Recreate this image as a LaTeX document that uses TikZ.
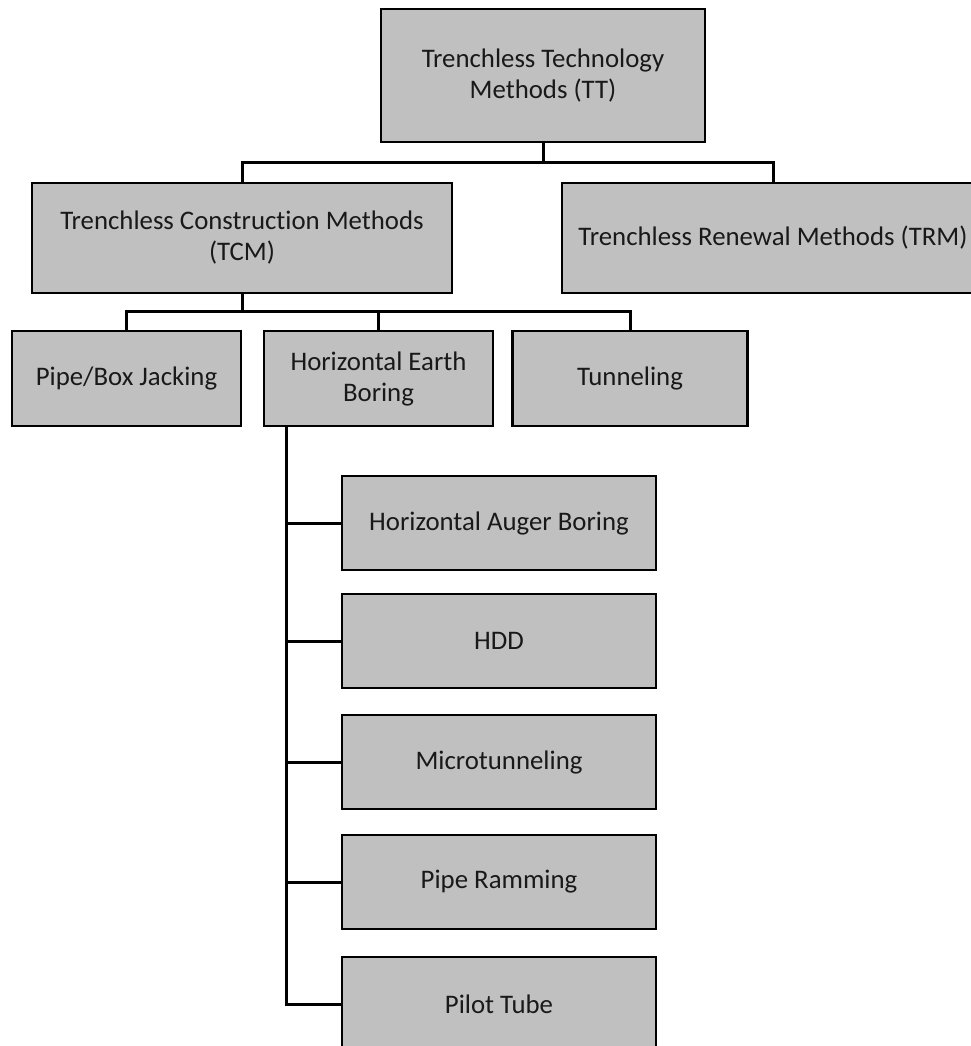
\documentclass[tikz,border=0pt]{standalone}
\usepackage{fontspec}
\setmainfont[RawFeature={-liga;-clig;-dlig}]{Carlito}
\definecolor{boxgray}{RGB}{192,192,192}
\definecolor{txtgray}{RGB}{25,25,25}
\begin{document}
\begin{tikzpicture}[x=1pt,y=-1pt,
  box/.style={draw=black,line width=2.4pt,fill=boxgray,rectangle,inner sep=0pt,
    text=txtgray,align=center,font=\fontsize{26.8}{31}\selectfont},
  conn/.style={draw=black,line width=3pt,line join=miter,line cap=rect}]
\clip (0,0) rectangle (971,1046);
\fill[white] (0,0) rectangle (971,1046);
% top level
\node[box,minimum width=324pt,minimum height=133pt] (TT) at (543,75.5) {Trenchless Technology\\Methods (TT)};
\node[box,minimum width=420pt,minimum height=110pt] (TCM) at (242,238) {Trenchless Construction Methods\\(TCM)};
\node[box,minimum width=422pt,minimum height=110pt] (TRM) at (773,238) {Trenchless Renewal Methods (TRM)};
% third level
\node[box,minimum width=229pt,minimum height=95pt] (PBJ) at (126.5,378.5) {Pipe/Box Jacking};
\node[box,minimum width=229pt,minimum height=95pt] (HEB) at (378.5,378.5) {Horizontal Earth\\Boring};
\node[box,minimum width=235pt,minimum height=95pt] (TUN) at (630,378.5) {Tunneling};
% fourth level
\node[box,minimum width=314pt,minimum height=94pt] (HAB) at (499,523) {Horizontal Auger Boring};
\node[box,minimum width=314pt,minimum height=94pt] (HDD) at (499,641) {HDD};
\node[box,minimum width=314pt,minimum height=94pt] (MT) at (499,762) {Microtunneling};
\node[box,minimum width=314pt,minimum height=94pt] (PR) at (499,882) {Pipe Ramming};
\node[box,minimum width=314pt,minimum height=94pt] (PT) at (499,1004) {Pilot Tube};
% connectors
\coordinate (j1) at (543,162);
\coordinate (j2) at (242,311);
\draw[conn] (TT.south) -- (j1);
\draw[conn] (TCM.north) -- (TCM.north |- j1) -- (TRM.north |- j1) -- (TRM.north);
\draw[conn] (TCM.south) -- (j2);
\draw[conn] (PBJ.north) -- (PBJ.north |- j2) -- (TUN.north |- j2) -- (TUN.north);
\draw[conn] (HEB.north) -- (HEB.north |- j2);
\coordinate (t0) at ([xshift=24pt]HEB.south west);
\draw[conn] (t0) |- (PT.west);
\draw[conn] (t0 |- HAB.west) -- (HAB.west);
\draw[conn] (t0 |- HDD.west) -- (HDD.west);
\draw[conn] (t0 |- MT.west) -- (MT.west);
\draw[conn] (t0 |- PR.west) -- (PR.west);
\end{tikzpicture}
\end{document}
